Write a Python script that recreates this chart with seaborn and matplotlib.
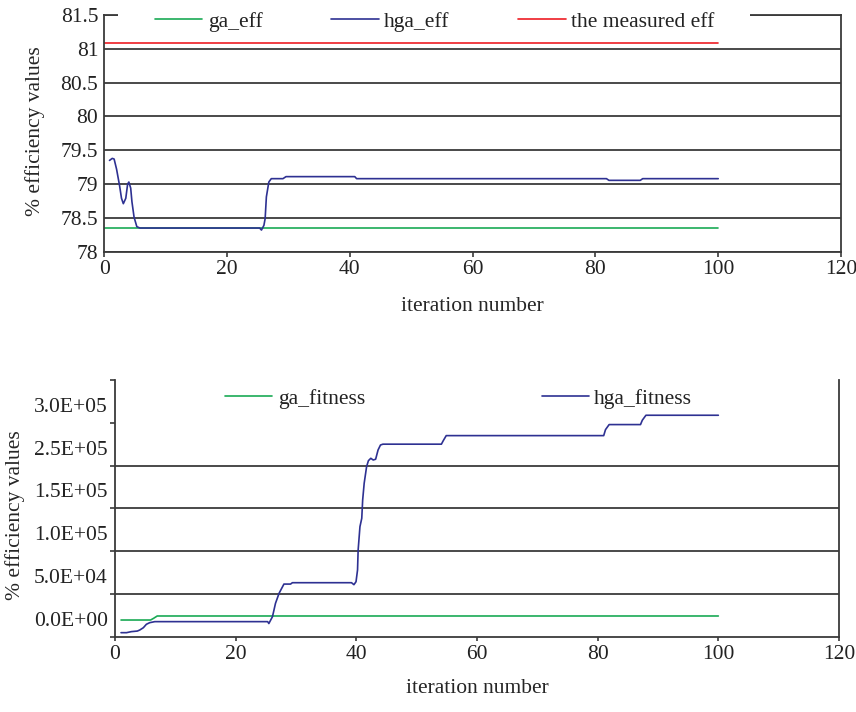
import numpy as np
import pandas as pd
import seaborn as sns
import matplotlib
matplotlib.use("Agg")
import matplotlib.pyplot as plt
from matplotlib.patches import Rectangle
from matplotlib.ticker import FixedLocator, MultipleLocator
from matplotlib.transforms import ScaledTranslation

# ---- efficiency per iteration ----
ga_eff_iter = [0, 100]
ga_eff = [78.35, 78.35]

measured_eff_iter = [0, 100]
measured_eff = [81.08, 81.08]

hga_eff_iter = [0.85, 1.3, 1.6, 2.0, 2.5, 2.8, 3.1, 3.5, 3.8, 4.0, 4.3, 4.5, 4.85,
                5.3, 5.8, 25.3, 25.6, 26.0, 26.2, 26.4, 26.8, 27.2, 29.1, 29.6,
                40.8, 41.1, 81.8, 82.2, 87.3, 87.7, 100]
hga_eff = [79.35, 79.38, 79.37, 79.22, 78.97, 78.79, 78.71, 78.79, 79.0, 79.03,
           78.94, 78.74, 78.51, 78.37, 78.35, 78.35, 78.32, 78.39, 78.49, 78.81,
           79.03, 79.08, 79.08, 79.11, 79.11, 79.08, 79.08, 79.055, 79.055,
           79.08, 79.08]

# ---- fitness per iteration ----
ga_fit_iter = [1, 5.9, 6.4, 7.0, 100]
ga_fitness = [19500, 19500, 21500, 24200, 24200]

hga_fit_iter = [1, 1.9, 2.7, 3.7, 4.1, 4.7, 5.2, 5.75, 6.6, 25.3, 25.5, 26.1,
                26.6, 27.2, 28.0, 29.1, 29.4, 39.2, 39.6, 39.95, 40.2, 40.3,
                40.6, 40.9, 41.05, 41.3, 41.7, 42.0, 42.4, 42.8, 43.2, 43.6,
                44.0, 44.4, 54.1, 54.4, 54.9, 81.0, 81.3, 81.9, 87.1, 87.4,
                88.0, 100]
hga_fitness = [4700, 4700, 5900, 6600, 7800, 10500, 14500, 16400, 17600, 17600,
               15400, 23400, 39000, 50800, 61500, 61500, 63100, 63100, 60800,
               64300, 78000, 101300, 128600, 138400, 159800, 179300, 198700,
               205700, 208500, 206500, 207400, 218200, 224000, 225000, 225000,
               229000, 235000, 235000, 242000, 247900, 247900, 253000, 258800,
               258800]

# ---- axis text ----
x_label = "iteration number"
y_label = "% efficiency values"
fit_tick_values = [0, 5e4, 1e5, 1.5e5, 2e5, 2.5e5, 3e5]
fit_tick_labels = ["0.0E+00", "5.0E+04", "1.0E+05", "1.5E+05", "2.5E+05",
                   "3.0E+05", ""]
fit_grid_values = [5e4, 1e5, 1.5e5, 2e5]

GREEN = "#1aaa55"
BLUE = "#2e3192"
RED = "#ed1c24"
AXC = "#3a3a3a"

sns.set_style("white")
plt.rcParams["font.family"] = ["Liberation Serif", "DejaVu Serif"]
plt.rcParams["font.size"] = 15.5
plt.rcParams["text.color"] = "#222222"
plt.rcParams["xtick.color"] = AXC
plt.rcParams["ytick.color"] = AXC
plt.rcParams["xtick.labelcolor"] = "#222222"
plt.rcParams["ytick.labelcolor"] = "#222222"

fig = plt.figure(figsize=(8.56, 7.12), dpi=100)

W, H = 856, 712


def axes_rect(left, top, right, bottom):
    return [left / W, 1 - bottom / H, (right - left) / W, (bottom - top) / H]


# ================= efficiency panel =================
ax1 = fig.add_axes(axes_rect(104.3, 15, 841, 251.7))

eff_df = pd.concat([
    pd.DataFrame({"iteration": ga_eff_iter, "value": ga_eff, "series": "ga_eff"}),
    pd.DataFrame({"iteration": hga_eff_iter, "value": hga_eff, "series": "hga_eff"}),
    pd.DataFrame({"iteration": measured_eff_iter, "value": measured_eff,
                  "series": "the measured eff"}),
], ignore_index=True)

sns.lineplot(data=eff_df, x="iteration", y="value", hue="series",
             palette={"ga_eff": GREEN, "hga_eff": BLUE, "the measured eff": RED},
             estimator=None, sort=False, linewidth=1.2, ax=ax1)

ax1.set_xlim(0, 120)
ax1.set_ylim(78, 81.5)
ax1.xaxis.set_major_locator(MultipleLocator(20))
ax1.yaxis.set_major_locator(MultipleLocator(0.5))
ax1.yaxis.set_major_formatter(matplotlib.ticker.FuncFormatter(lambda v, p: f"{v:g}"))
ax1.yaxis.grid(True, color=AXC, linewidth=1.3)
ax1.xaxis.grid(False)
ax1.tick_params(axis="x", direction="out", length=3.6, width=1.2, pad=2.5,
                labelsize=15.5, bottom=True)
ax1.tick_params(axis="y", length=0, pad=4.3, labelsize=15.5, left=True)
for s in ax1.spines.values():
    s.set_color(AXC)
    s.set_linewidth(1.3)

ax1.set_xlabel(x_label, fontsize=15.5)
ax1.set_ylabel(y_label, fontsize=15.5)
ax1.xaxis.set_label_coords(0.5, -0.191)
ax1.yaxis.set_label_coords(-0.08, 0.51)

# white band so the legend sits over the top frame line
ax1.add_patch(Rectangle((0.0186, 0.97), 0.858, 0.06, transform=ax1.transAxes,
                        facecolor="white", edgecolor="none", zorder=3,
                        clip_on=False))
leg1 = ax1.legend(loc="center left", bbox_to_anchor=(0.0688, 0.972), ncol=3,
                  frameon=False, borderpad=0, borderaxespad=0,
                  handlelength=2.2, handletextpad=0.25, columnspacing=3.2,
                  fontsize=15.5)
for ln in leg1.get_lines():
    ln.set_linewidth(1.2)
leg1.set_zorder(5)

# ================= fitness panel =================
ax2 = fig.add_axes(axes_rect(115, 380, 839, 636.7))

fit_df = pd.concat([
    pd.DataFrame({"iteration": ga_fit_iter, "value": ga_fitness,
                  "series": "ga_fitness"}),
    pd.DataFrame({"iteration": hga_fit_iter, "value": hga_fitness,
                  "series": "hga_fitness"}),
], ignore_index=True)

sns.lineplot(data=fit_df, x="iteration", y="value", hue="series",
             palette={"ga_fitness": GREEN, "hga_fitness": BLUE},
             estimator=None, sort=False, linewidth=1.2, ax=ax2)

ax2.set_xlim(0, 120)
ax2.set_ylim(0, 3e5)
ax2.xaxis.set_major_locator(MultipleLocator(20))
ax2.set_yticks(fit_tick_values)
ax2.set_yticklabels(fit_tick_labels)
ax2.yaxis.remove_overlapping_locs = False
ax2.yaxis.set_minor_locator(FixedLocator(fit_grid_values))
ax2.yaxis.grid(True, which="minor", color=AXC, linewidth=1.3)
ax2.yaxis.grid(False, which="major")
ax2.xaxis.grid(False)
ax2.tick_params(axis="y", which="minor", length=0)
ax2.tick_params(axis="y", which="major", direction="out", length=3.6,
                width=1.2, pad=1.5, labelsize=15.5, left=True)
ax2.tick_params(axis="x", direction="out", length=2.9, width=1.2, pad=3.4,
                labelsize=15.5, bottom=True)

shift = ScaledTranslation(0, 18 / 100, fig.dpi_scale_trans)
for lab in ax2.get_yticklabels():
    lab.set_transform(lab.get_transform() + shift)

ax2.spines["top"].set_visible(False)
for k in ("left", "right", "bottom"):
    ax2.spines[k].set_color(AXC)
    ax2.spines[k].set_linewidth(1.3)

ax2.set_xlabel(x_label, fontsize=15.5)
ax2.set_ylabel(y_label, fontsize=15.5)
ax2.xaxis.set_label_coords(0.5, -0.163)
ax2.yaxis.set_label_coords(-0.124, 0.474)

leg2 = ax2.legend(loc="center left", bbox_to_anchor=(0.152, 0.926), ncol=2,
                  frameon=False, borderpad=0, borderaxespad=0,
                  handlelength=2.2, handletextpad=0.25, columnspacing=8.2,
                  fontsize=15.5)
for ln in leg2.get_lines():
    ln.set_linewidth(1.2)

fig.savefig("out.png", dpi=100)
